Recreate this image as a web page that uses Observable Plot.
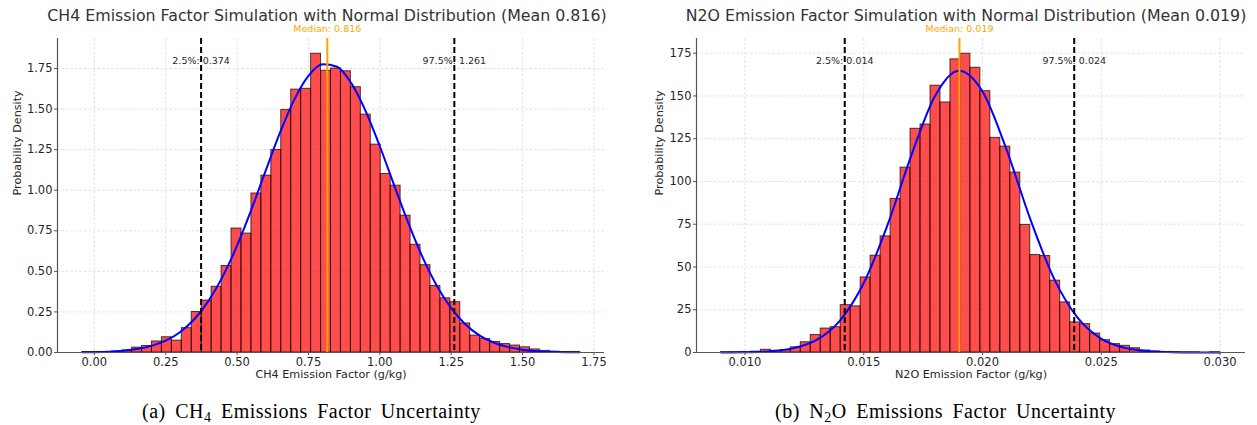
<!DOCTYPE html>
<html>
<head>
<meta charset="utf-8">
<script src="https://cdn.jsdelivr.net/npm/d3@7"></script>
<script src="https://cdn.jsdelivr.net/npm/@observablehq/plot@0.6"></script>
<style>
  html, body { margin: 0; padding: 0; background: #fff; }
  #wrap { position: relative; width: 1257px; height: 425px; overflow: hidden; background: #fff; }
  .panel { position: absolute; top: 0; }
  .cap { position: absolute; font-family: "Liberation Serif", "Times New Roman", serif; font-size: 20px; line-height: 20px; color: #000; white-space: nowrap; letter-spacing: 0.5px; word-spacing: 4px; }
  .sub { font-size: 14px; position: relative; top: 4px; }
</style>
</head>
<body>
<div id="wrap">
  <div id="left" class="panel" style="left:0px"></div>
  <div id="right" class="panel" style="left:628px"></div>
  <div class="cap" style="left:142px; top:401px">(a) CH<span class="sub">4</span> Emissions Factor Uncertainty</div>
  <div class="cap" style="left:775px; top:401px">(b) N<span class="sub">2</span>O Emissions Factor Uncertainty</div>
</div>
<script>
// ---------------- CH4 data ----------------
const ch4Title = "CH4 Emission Factor Simulation with Normal Distribution (Mean 0.816)";
const ch4XLabel = "CH4 Emission Factor (g/kg)";
const ch4BinStart = -0.042;
const ch4BinWidth = 0.03484;
const ch4Density = [0.003, 0.003, 0.003, 0.006, 0.012, 0.030, 0.040, 0.068, 0.094, 0.073,
  0.150, 0.250, 0.320, 0.405, 0.533, 0.764, 0.733, 0.980, 1.090, 1.248,
  1.495, 1.620, 1.625, 1.841, 1.736, 1.750, 1.733, 1.635, 1.466, 1.281,
  1.100, 1.028, 0.843, 0.664, 0.538, 0.410, 0.334, 0.310, 0.179, 0.104,
  0.083, 0.065, 0.052, 0.043, 0.032, 0.019, 0.010, 0.005, 0.003, 0.002];
const ch4CurveX = [-0.042, 0, 0.05, 0.1, 0.15, 0.2, 0.25, 0.3, 0.35, 0.4, 0.45, 0.5, 0.55, 0.6, 0.65, 0.7, 0.75, 0.8, 0.85, 0.9, 0.95, 1.0, 1.05, 1.1, 1.15, 1.2, 1.25, 1.3, 1.35, 1.4, 1.45, 1.5, 1.55, 1.6, 1.65, 1.7];
const ch4CurveY = [0.001, 0.002, 0.005, 0.011, 0.021, 0.041, 0.073, 0.125, 0.205, 0.318, 0.469, 0.658, 0.880, 1.119, 1.353, 1.557, 1.705, 1.776, 1.761, 1.660, 1.489, 1.271, 1.032, 0.797, 0.586, 0.410, 0.273, 0.172, 0.104, 0.060, 0.033, 0.017, 0.008, 0.004, 0.002, 0.001];
const ch4Quantiles = [0.374, 0.816, 1.261]; // 2.5%, median, 97.5%
const ch4QuantileText = ["0.374", "0.816", "1.261"];
const ch4XTicks = [0, 0.25, 0.5, 0.75, 1.0, 1.25, 1.5, 1.75];
const ch4YTicks = [0, 0.25, 0.5, 0.75, 1.0, 1.25, 1.5, 1.75];
const ch4XDomain = [-0.129, 1.787];
const ch4YDomain = [0, 1.935];

// ---------------- N2O data ----------------
const n2oTitle = "N2O Emission Factor Simulation with Normal Distribution (Mean 0.019)";
const n2oXLabel = "N2O Emission Factor (g/kg)";
const n2oBinStart = 0.00899;
const n2oBinWidth = 0.00042;
const n2oDensity = [0.2, 0.2, 0.3, 0.5, 1.6, 1.0, 1.5, 3.0, 6.0, 10.2,
  14.0, 14.8, 27.7, 27.0, 43.9, 56.6, 67.9, 89.8, 108.1, 130.8,
  133.3, 156.0, 146.2, 171.4, 174.7, 166.5, 152.8, 125.5, 120.4, 105.2,
  74.6, 57.0, 56.4, 42.0, 29.3, 17.6, 16.6, 11.1, 7.2, 4.9,
  3.9, 2.5, 1.2, 0.6, 0.3, 0.2, 0.1, 0.1, 0.0, 0.1];
const n2oCurveX = [0.009, 0.010, 0.011, 0.012, 0.013, 0.014, 0.015, 0.016, 0.017, 0.018, 0.019, 0.020, 0.021, 0.022, 0.023, 0.024, 0.025, 0.026, 0.027, 0.028, 0.029, 0.030];
const n2oCurveY = [0.03, 0.15, 0.65, 2.4, 7.2, 18.7, 40.6, 74.5, 115.1, 150.0, 164.8, 152.6, 119.1, 78.4, 43.5, 20.4, 8.0, 2.7, 0.75, 0.18, 0.04, 0.01];
const n2oQuantiles = [0.0142, 0.01903, 0.02386];
const n2oQuantileText = ["0.014", "0.019", "0.024"];
const n2oXTicks = [0.010, 0.015, 0.020, 0.025, 0.030];
const n2oYTicks = [0, 25, 50, 75, 100, 125, 150, 175];
const n2oXDomain = [0.00796, 0.03107];
const n2oYDomain = [0, 183.6];

function panel(cfg) {
  const bins = cfg.density.map((d, i) => ({
    x1: cfg.binStart + i * cfg.binWidth,
    x2: cfg.binStart + (i + 1) * cfg.binWidth,
    y: d
  }));
  const curve = cfg.curveX.map((x, i) => ({x, y: cfg.curveY[i]}));
  const [q1, med, q2] = cfg.quantiles;
  const txt = "#262626";
  const grid = {stroke: "#d4d4d4", strokeWidth: 0.7, strokeDasharray: "2.5,2"};
  return Plot.plot({
    width: cfg.width, height: 390,
    marginLeft: cfg.marginLeft, marginRight: cfg.marginRight, marginTop: 38, marginBottom: 38,
    style: {fontFamily: "DejaVu Sans", fontSize: "11.5px", color: txt, background: "white", overflow: "visible"},
    x: {domain: cfg.xDomain},
    y: {domain: cfg.yDomain},
    marks: [
      Plot.ruleX(cfg.xTicks, grid),
      Plot.ruleY(cfg.yTicks, grid),
      Plot.rectY(bins, {x1: "x1", x2: "x2", y: "y", fill: "red", fillOpacity: 0.7, stroke: "black", strokeOpacity: 0.7, strokeWidth: 1}),
      Plot.line(curve, {x: "x", y: "y", stroke: "blue", strokeWidth: 2, curve: "monotone-x"}),
      Plot.ruleX([q1, q2], {stroke: "black", strokeWidth: 2, strokeDasharray: "6,3"}),
      Plot.ruleX([med], {stroke: "#ffa500", strokeWidth: 2}),
      Plot.text([q1], {x: d => d, frameAnchor: "top", dy: 22, lineAnchor: "middle", text: () => "2.5%: " + cfg.qText[0], fontSize: 9.5, fill: txt}),
      Plot.text([q2], {x: d => d, frameAnchor: "top", dy: 22, lineAnchor: "middle", text: () => "97.5%: " + cfg.qText[2], fontSize: 9.5, fill: txt}),
      Plot.text([med], {x: d => d, frameAnchor: "top", dy: -9.5, lineAnchor: "middle", text: () => "Median: " + cfg.qText[1], fontSize: 9.5, fill: "#ffa500"}),
      Plot.ruleX([cfg.xDomain[0]], {stroke: "#555", strokeWidth: 1.2}),
      Plot.ruleY([0], {stroke: "#555", strokeWidth: 1.2}),
      Plot.axisX({ticks: cfg.xTicks, tickFormat: cfg.xFormat, tickSize: 3, tickPadding: 2, label: null, stroke: "#555", fill: txt}),
      Plot.axisY({ticks: cfg.yTicks, tickFormat: cfg.yFormat, tickSize: 3, tickPadding: 2, label: null, stroke: "#555", fill: txt}),
      Plot.text([cfg.title], {frameAnchor: "top", dy: -23, lineAnchor: "middle", dx: cfg.titleDx, fontSize: 15.8, fill: "#333"}),
      Plot.text([cfg.xLabel], {frameAnchor: "bottom", dy: 22, lineAnchor: "middle", fontSize: 11.2, fill: txt}),
      Plot.text(["Probability Density"], {frameAnchor: "left", dx: cfg.yLabelDx, rotate: -90, lineAnchor: "middle", fontSize: 11.2, fill: txt})
    ]
  });
}

document.getElementById("left").appendChild(panel({
  width: 628, marginLeft: 57, marginRight: 24,
  title: ch4Title, xLabel: ch4XLabel, titleDx: -4, yLabelDx: -40,
  binStart: ch4BinStart, binWidth: ch4BinWidth, density: ch4Density,
  curveX: ch4CurveX, curveY: ch4CurveY,
  quantiles: ch4Quantiles, qText: ch4QuantileText,
  xTicks: ch4XTicks, yTicks: ch4YTicks, xDomain: ch4XDomain, yDomain: ch4YDomain,
  xFormat: d3.format(".2f"), yFormat: d3.format(".2f")
}));

document.getElementById("right").appendChild(panel({
  width: 629, marginLeft: 68, marginRight: 12,
  title: n2oTitle, xLabel: n2oXLabel, titleDx: -5, yLabelDx: -37,
  binStart: n2oBinStart, binWidth: n2oBinWidth, density: n2oDensity,
  curveX: n2oCurveX, curveY: n2oCurveY,
  quantiles: n2oQuantiles, qText: n2oQuantileText,
  xTicks: n2oXTicks, yTicks: n2oYTicks, xDomain: n2oXDomain, yDomain: n2oYDomain,
  xFormat: d3.format(".3f"), yFormat: d3.format("d")
}));
</script>
</body>
</html>
